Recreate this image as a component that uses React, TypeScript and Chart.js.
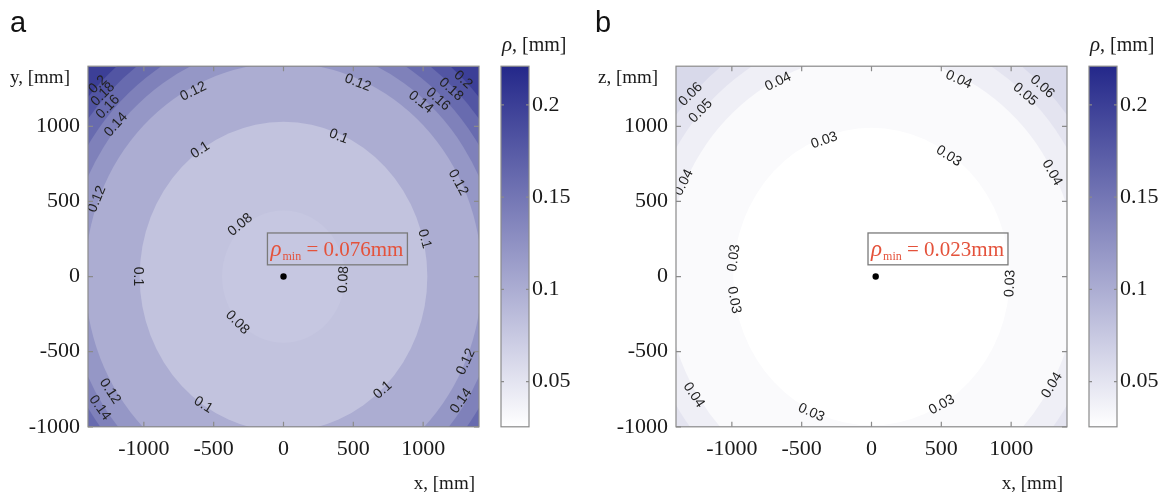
import React, { useEffect, useRef } from 'react';
import { Chart, registerables } from 'chart.js';

Chart.register(...registerables);

// ---------- shared axes ----------
const X_RANGE = [-1400, 1400];
const Y_RANGE = [-1000, 1400];
const X_TICKS = [-1000, -500, 0, 500, 1000];
const Y_TICKS = [-1000, -500, 0, 500, 1000];
const CB_RANGE = [0.0255, 0.221];
const CB_TICKS = [0.05, 0.1, 0.15, 0.2];
const CB_TICK_LABELS = ['0.05', '0.1', '0.15', '0.2'];
const CMAP_LOW = [255, 255, 255];
const CMAP_HIGH = [36, 40, 138];

// ---------- panel a ----------
const A_LEVELS = [0.08, 0.1, 0.12, 0.14, 0.16, 0.18, 0.2];
const A_RADII = [440, 1030, 1420, 1550, 1650, 1750, 1840];
const A_CENTER = [0, 0];
const A_MIN_VALUE = 0.076;
const A_MIN_POINT = [0, 0];
const A_LABEL_TEXT = ['0.2', '0.18', '0.16', '0.14', '0.12', '0.1', '0.12', '0.08', '0.1', '0.08', '0.12', '0.14', '0.1', '0.1', '0.12', '0.14', '0.08', '0.1', '0.12', '0.1', '0.12', '0.14', '0.16', '0.18', '0.2'];
const A_LABEL_X = [-1329, -1293, -1257, -1200, -646, -596, -1336, -309, -1040, -330, -1243, -1315, -575, 711, 1307, 1272, 430, 1010, 1250, 395, 532, 984, 1106, 1200, 1286];
const A_LABEL_Y = [1278, 1212, 1128, 1010, 1232, 841, 515, 345, 0, -306, -763, -873, -854, -756, -567, -828, -20, 250, 626, 932, 1290, 1160, 1180, 1245, 1310];

// ---------- panel b ----------
const B_LEVELS = [0.03, 0.04, 0.05, 0.06];
const B_RADII = [990, 1475, 1640, 1765];
const B_CENTER = [0, 0];
const B_MIN_VALUE = 0.023;
const B_MIN_POINT = [30, 0];
const B_LABEL_TEXT = ['0.06', '0.05', '0.04', '0.04', '0.03', '0.03', '0.03', '0.04', '0.03', '0.03', '0.04', '0.03', '0.04', '0.03', '0.04', '0.05', '0.06'];
const B_LABEL_X = [-1295, -1223, -669, -1345, -338, -985, -985, -1273, -431, 504, 1293, 993, 1293, 553, 625, 1100, 1223];
const B_LABEL_Y = [1212, 1102, 1297, 626, 906, 124, -156, -789, -906, -854, -724, -46, 691, 802, 1310, 1212, 1264];

const W = 588;
const H = 493;
const SERIF = '"Liberation Serif", "Times New Roman", serif';
const SANS = '"Liberation Sans", Arial, sans-serif';
const AXIS_GRAY = '#8a8a8a';
const RED = '#e4523b';

function cmap(v: number): string {
  let t = (v - CB_RANGE[0]) / (CB_RANGE[1] - CB_RANGE[0]);
  t = Math.max(0, Math.min(1, t));
  const c = CMAP_LOW.map((lo, i) => Math.round(lo + (CMAP_HIGH[i] - lo) * t));
  return `rgb(${c[0]},${c[1]},${c[2]})`;
}

type PanelCfg = {
  letter: string;
  yTitle: string;
  levels: number[];
  radii: number[];
  center: number[];
  minValue: number;
  minPoint: number[];
  labelText: string[];
  labelX: number[];
  labelY: number[];
  boxLeft: number;
  letterX: number;
};

function makePlugin(cfg: PanelCfg) {
  return {
    id: 'contourPanel',
    beforeDatasetsDraw(chart: any) {
      const { ctx, chartArea: ca } = chart;
      const xs = chart.scales.x;
      const ys = chart.scales.y;
      ctx.save();
      ctx.beginPath();
      ctx.rect(ca.left, ca.top, ca.right - ca.left, ca.bottom - ca.top);
      ctx.clip();
      const n = cfg.levels.length;
      ctx.fillStyle = cmap(cfg.levels[n - 1]);
      ctx.fillRect(ca.left, ca.top, ca.right - ca.left, ca.bottom - ca.top);
      const cx = xs.getPixelForValue(cfg.center[0]);
      const cy = ys.getPixelForValue(cfg.center[1]);
      for (let i = n - 1; i >= 0; i--) {
        const r = cfg.radii[i];
        const rx = Math.abs(xs.getPixelForValue(cfg.center[0] + r) - cx);
        const ry = Math.abs(ys.getPixelForValue(cfg.center[1] + r) - cy);
        ctx.beginPath();
        ctx.ellipse(cx, cy, rx, ry, 0, 0, Math.PI * 2);
        ctx.fillStyle = cmap(i === 0 ? cfg.minValue : cfg.levels[i - 1]);
        ctx.fill();
      }
      // contour labels
      ctx.font = `14px ${SANS}`;
      ctx.fillStyle = '#222';
      ctx.textAlign = 'center';
      ctx.textBaseline = 'middle';
      cfg.labelText.forEach((t, i) => {
        const px = xs.getPixelForValue(cfg.labelX[i]);
        const py = ys.getPixelForValue(cfg.labelY[i]);
        let a = Math.atan2(py - cy, px - cx) + Math.PI / 2;
        while (a > Math.PI / 2) a -= Math.PI;
        while (a <= -Math.PI / 2) a += Math.PI;
        ctx.save();
        ctx.translate(px, py);
        ctx.rotate(a);
        ctx.fillText(t, 0, 0);
        ctx.restore();
      });
      ctx.restore();
    },
    afterDatasetsDraw(chart: any) {
      const { ctx, chartArea: ca } = chart;
      const xs = chart.scales.x;
      const ys = chart.scales.y;
      const cb = chart.scales.cb;
      ctx.save();
      // frame + inner ticks
      ctx.strokeStyle = AXIS_GRAY;
      ctx.lineWidth = 1.2;
      ctx.strokeRect(ca.left, ca.top, ca.right - ca.left, ca.bottom - ca.top);
      const tl = 5;
      ctx.beginPath();
      X_TICKS.forEach((v) => {
        const p = xs.getPixelForValue(v);
        ctx.moveTo(p, ca.bottom);
        ctx.lineTo(p, ca.bottom - tl);
        ctx.moveTo(p, ca.top);
        ctx.lineTo(p, ca.top + tl);
      });
      Y_TICKS.forEach((v) => {
        const p = ys.getPixelForValue(v);
        ctx.moveTo(ca.left, p);
        ctx.lineTo(ca.left + tl, p);
        ctx.moveTo(ca.right, p);
        ctx.lineTo(ca.right - tl, p);
      });
      ctx.stroke();

      // annotation box
      const bl = xs.getPixelForValue(cfg.boxLeft);
      const bt = ys.getPixelForValue(290);
      const bb = ys.getPixelForValue(78);
      ctx.font = `italic 23px ${SERIF}`;
      const wRho = ctx.measureText('ρ').width;
      ctx.font = `12px ${SERIF}`;
      const wMin = ctx.measureText('min').width;
      const rest = ' = ' + cfg.minValue.toFixed(3) + 'mm';
      ctx.font = `21px ${SERIF}`;
      const wRest = ctx.measureText(rest).width;
      const bw = 3 + wRho + 1 + wMin + wRest + 4;
      ctx.strokeStyle = '#7a7a7a';
      ctx.lineWidth = 1.3;
      ctx.strokeRect(bl, bt, bw, bb - bt);
      const base = bb - 9;
      ctx.fillStyle = RED;
      ctx.textAlign = 'left';
      ctx.textBaseline = 'alphabetic';
      let tx = bl + 3;
      ctx.font = `italic 23px ${SERIF}`;
      ctx.fillText('ρ', tx, base);
      tx += wRho + 1;
      ctx.font = `12px ${SERIF}`;
      ctx.fillText('min', tx, base + 4);
      tx += wMin;
      ctx.font = `21px ${SERIF}`;
      ctx.fillText(rest, tx, base);

      // colorbar
      const cbl = ca.right + 22;
      const cbw = 28;
      const cbt = cb.getPixelForValue(CB_RANGE[1]);
      const cbb = cb.getPixelForValue(CB_RANGE[0]);
      const g = ctx.createLinearGradient(0, cbb, 0, cbt);
      g.addColorStop(0, cmap(CB_RANGE[0]));
      g.addColorStop(1, cmap(CB_RANGE[1]));
      ctx.fillStyle = g;
      ctx.fillRect(cbl, cbt, cbw, cbb - cbt);
      ctx.strokeStyle = AXIS_GRAY;
      ctx.lineWidth = 1.2;
      ctx.strokeRect(cbl, cbt, cbw, cbb - cbt);
      ctx.beginPath();
      CB_TICKS.forEach((v) => {
        const p = cb.getPixelForValue(v);
        ctx.moveTo(cbl, p);
        ctx.lineTo(cbl + 3, p);
        ctx.moveTo(cbl + cbw, p);
        ctx.lineTo(cbl + cbw - 3, p);
      });
      ctx.stroke();

      // titles
      ctx.fillStyle = '#1a1a1a';
      ctx.font = `19px ${SERIF}`;
      ctx.textAlign = 'left';
      ctx.fillText(cfg.yTitle, 10, 83);
      ctx.textAlign = 'right';
      ctx.fillText('x, [mm]', ca.right - 4, 489);
      // colorbar title
      ctx.textAlign = 'left';
      ctx.font = `italic 21px ${SERIF}`;
      ctx.fillText('ρ', cbl + 1, 51);
      const wr = ctx.measureText('ρ').width;
      ctx.font = `20px ${SERIF}`;
      ctx.fillText(', [mm]', cbl + 1 + wr, 51);
      // panel letter
      ctx.font = `29px ${SANS}`;
      ctx.fillStyle = '#111';
      ctx.fillText(cfg.letter, cfg.letterX, 32);
      ctx.restore();
    },
  };
}

function Panel({ cfg }: { cfg: PanelCfg }) {
  const ref = useRef<HTMLCanvasElement | null>(null);
  useEffect(() => {
    if (!ref.current) return;
    const tickFont = { family: SERIF, size: 22 };
    const chart = new Chart(ref.current, {
      type: 'scatter',
      data: {
        datasets: [
          {
            data: [{ x: cfg.minPoint[0], y: cfg.minPoint[1] }],
            pointRadius: 3.2,
            pointBackgroundColor: '#000',
            pointBorderWidth: 0,
            clip: false,
          } as any,
        ],
      },
      options: {
        animation: false,
        responsive: false,
        events: [],
        layout: { padding: { top: 62, left: 0, right: 0, bottom: 0 } },
        plugins: { legend: { display: false }, tooltip: { enabled: false } },
        scales: {
          x: {
            type: 'linear',
            min: X_RANGE[0],
            max: X_RANGE[1],
            afterBuildTicks: (s: any) => {
              s.ticks = X_TICKS.map((v) => ({ value: v }));
            },
            afterFit: (s: any) => {
              s.height = 63;
            },
            grid: { display: false, drawTicks: false },
            border: { display: false },
            ticks: {
              autoSkip: false,
              maxRotation: 0,
              padding: 9,
              color: '#1a1a1a',
              font: tickFont,
              callback: (v: any) => String(v),
            },
          },
          y: {
            type: 'linear',
            min: Y_RANGE[0],
            max: Y_RANGE[1],
            afterBuildTicks: (s: any) => {
              s.ticks = Y_TICKS.map((v) => ({ value: v }));
            },
            afterFit: (s: any) => {
              s.width = 88;
            },
            grid: { display: false, drawTicks: false },
            border: { display: false },
            ticks: {
              autoSkip: false,
              padding: 8,
              color: '#1a1a1a',
              font: tickFont,
              callback: (v: any) => String(v),
            },
          },
          cb: {
            type: 'linear',
            position: 'right',
            axis: 'y',
            min: CB_RANGE[0],
            max: CB_RANGE[1],
            afterBuildTicks: (s: any) => {
              s.ticks = CB_TICKS.map((v) => ({ value: v }));
            },
            afterFit: (s: any) => {
              s.width = 109;
            },
            grid: { display: false, drawTicks: false },
            border: { display: false },
            ticks: {
              autoSkip: false,
              padding: 53,
              color: '#1a1a1a',
              font: tickFont,
              callback: (v: any) => {
                const i = CB_TICKS.findIndex((t) => Math.abs(t - v) < 1e-9);
                return i >= 0 ? CB_TICK_LABELS[i] : '';
              },
            },
          } as any,
        },
      },
      plugins: [makePlugin(cfg)],
    });
    return () => chart.destroy();
  }, [cfg]);
  return <canvas ref={ref} width={W} height={H} style={{ width: W, height: H, display: 'block' }} />;
}

const PANEL_A: PanelCfg = {
  letter: 'a',
  yTitle: 'y, [mm]',
  levels: A_LEVELS,
  radii: A_RADII,
  center: A_CENTER,
  minValue: A_MIN_VALUE,
  minPoint: A_MIN_POINT,
  labelText: A_LABEL_TEXT,
  labelX: A_LABEL_X,
  labelY: A_LABEL_Y,
  boxLeft: -115,
  letterX: 10,
};

const PANEL_B: PanelCfg = {
  letter: 'b',
  yTitle: 'z, [mm]',
  levels: B_LEVELS,
  radii: B_RADII,
  center: B_CENTER,
  minValue: B_MIN_VALUE,
  minPoint: B_MIN_POINT,
  labelText: B_LABEL_TEXT,
  labelX: B_LABEL_X,
  labelY: B_LABEL_Y,
  boxLeft: -25,
  letterX: 7,
};

export default function App() {
  return (
    <div style={{ position: 'absolute', left: 0, top: 0, width: 1176, height: 493, background: '#fff', display: 'flex' }}>
      <Panel cfg={PANEL_A} />
      <Panel cfg={PANEL_B} />
    </div>
  );
}
